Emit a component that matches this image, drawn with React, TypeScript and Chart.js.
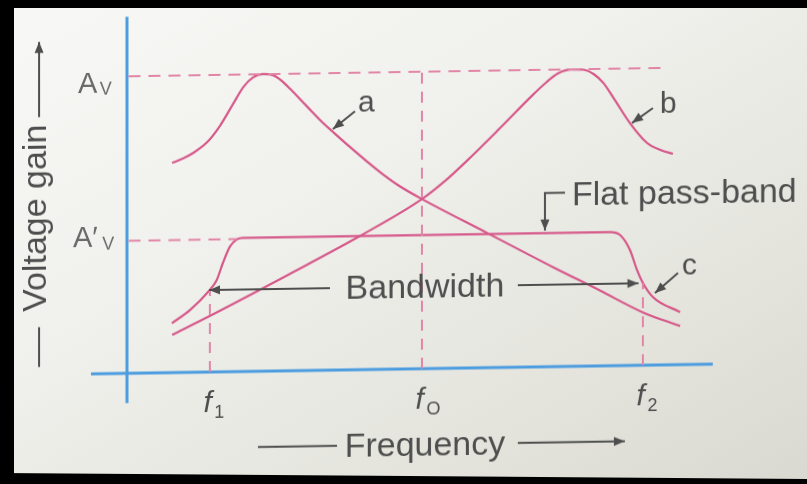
import React, { useEffect, useRef } from "react";
import { Chart, registerables } from "chart.js";

Chart.register(...registerables);

// ---- data (frequency units: y-axis = 0, f0 = 100; gain units: x-axis = 0, Av = 100) ----
const curveAX = [15.3, 19, 22.4, 27.1, 31.5, 35.9, 39.5, 42.7, 46, 49.5, 52.5, 55.3, 61.0, 66.4, 69.8, 75.6, 81.4, 86.8, 92.5, 100, 122, 144.4, 160.3, 174.9, 187.5];
const curveAY = [70.6, 72.0, 73.8, 77.3, 82.8, 90.0, 95.8, 98.9, 100, 99.6, 97.6, 94.9, 88.9, 83.3, 80.2, 75.0, 70.0, 65.6, 61.5, 57.1, 45.4, 33.5, 25.4, 17.8, 13.0];

const curveBX = [15.3, 27.5, 55, 79.0, 100, 107.5, 115.3, 126.4, 137.6, 142, 146, 150.5, 154.6, 158.3, 161.5, 164.7, 170.5, 176.3, 181, 185.1];
const curveBY = [12.7, 18.6, 32.5, 45.0, 57.1, 62.8, 69.8, 80.5, 91.6, 95.6, 98.6, 99.9, 99.8, 98.2, 95.2, 90.5, 81.6, 74.8, 72.3, 71.0];

const curveCX = [15.2, 21.4, 27.6, 30.4, 32.5, 34.9, 37.2, 39.3, 163.7, 167.1, 170.5, 172.9, 174.9, 178.3, 187.5];
const curveCY = [16.6, 21.0, 27.1, 30.9, 36.6, 42.1, 44.5, 45.0, 45.0, 44.0, 38.9, 32.1, 27.7, 22.9, 17.7];

const freqMarks = [28.1, 100, 174.9];
const freqSubs = ["1", "O", "2"];
const cutoffGain = 27.6;
const gainLevels = [100, 44.6];
const gainNames = ["A", "A′"];
const axisXRange = [-12.2, 198.6];
const axisYRange = [-10, 120];
const avLineEnd = 182.4;
const avpLineEnd = 37.3;

// ---- styles ----
const PINK = "#d6598a";
const PINK_DASH = "#e285a7";
const BLUE = "#4c9ce0";
const INK = "#4e4e4e";
const INK_LIGHT = "#6a6a6a";
const FONT = '"Liberation Sans", Arial, Helvetica, sans-serif';

const toPts = (xs: number[], ys: number[]) => xs.map((x, i) => ({ x, y: ys[i] }));

type Txt = { text: string; x: number; y: number; size: number; italic?: boolean; align?: CanvasTextAlign; rot?: boolean; color?: string };
type Arr = { pts: number[][]; head?: boolean };

const TEXTS: Txt[] = [
  { text: gainNames[0], x: -16.6, y: 94.6, size: 29, color: INK_LIGHT },
  { text: "V", x: -9.2, y: 93.9, size: 18, color: INK_LIGHT },
  { text: gainNames[1], x: -18.3, y: 42.8, size: 29, color: INK_LIGHT },
  { text: "V", x: -8.4, y: 41.9, size: 18, color: INK_LIGHT },
  { text: "a", x: 78.3, y: 86.7, size: 30 },
  { text: "b", x: 180.7, y: 84.8, size: 30 },
  { text: "c", x: 188.1, y: 30.2, size: 30 },
  { text: "Flat pass-band", x: 150.8, y: 54.3, size: 34 },
  { text: "Bandwidth", x: 101, y: 23.9, size: 34, align: "center" },
  { text: "Frequency", x: 101, y: -29.3, size: 34, align: "center" },
  { text: "Voltage gain", x: -27.5, y: 52.7, size: 34, align: "center", rot: true },
  ...freqMarks.flatMap((f, i) => [
    { text: "f", x: f - 2.2, y: -13.6, size: 30, italic: true },
    { text: freqSubs[i], x: f + 1.5, y: -15.6, size: 18 },
  ]),
];

const ARROWS: Arr[] = [
  { pts: [[77.3, 87.0], [69.8, 81.1]], head: true },
  { pts: [[178.3, 86.5], [171.2, 81.6]], head: true },
  { pts: [[186.8, 30.9], [179.0, 24.2]], head: true },
  { pts: [[148.5, 58.5], [141.7, 58.5], [141.7, 45.9]], head: true },
  { pts: [[68.8, cutoffGain], [freqMarks[0] - 0.3, cutoffGain]], head: true },
  { pts: [[132.5, cutoffGain], [freqMarks[2] - 1.5, cutoffGain]], head: true },
  { pts: [[44.4, -25.5], [71.2, -25.5]] },
  { pts: [[132.5, -25.5], [168.8, -25.5]], head: true },
  { pts: [[-29.8, 2.6], [-29.8, 16.0]] },
  { pts: [[-29.8, 86.7], [-29.8, 112]], head: true },
];

function drawHead(ctx: CanvasRenderingContext2D, x1: number, y1: number, x2: number, y2: number) {
  const L = 11, W = 4.5;
  const a = Math.atan2(y2 - y1, x2 - x1);
  const c = Math.cos(a), s = Math.sin(a);
  ctx.beginPath();
  ctx.moveTo(x2, y2);
  ctx.lineTo(x2 - L * c - W * s, y2 - L * s + W * c);
  ctx.lineTo(x2 - L * c + W * s, y2 - L * s - W * c);
  ctx.closePath();
  ctx.fill();
}

const annotPlugin = {
  id: "annot",
  afterDatasetsDraw(chart: any) {
    const { ctx, scales } = chart;
    const px = (v: number) => scales.x.getPixelForValue(v);
    const py = (v: number) => scales.y.getPixelForValue(v);
    ctx.save();
    ctx.strokeStyle = INK;
    ctx.fillStyle = INK;
    ctx.lineWidth = 2;
    ctx.lineCap = "butt";
    for (const a of ARROWS) {
      ctx.beginPath();
      a.pts.forEach(([vx, vy], i) => (i ? ctx.lineTo(px(vx), py(vy)) : ctx.moveTo(px(vx), py(vy))));
      ctx.stroke();
      if (a.head) {
        const n = a.pts.length;
        drawHead(ctx, px(a.pts[n - 2][0]), py(a.pts[n - 2][1]), px(a.pts[n - 1][0]), py(a.pts[n - 1][1]));
      }
    }
    for (const t of TEXTS) {
      ctx.font = `${t.italic ? "italic " : ""}${t.size}px ${FONT}`;
      ctx.fillStyle = t.color ?? INK;
      ctx.textAlign = t.align ?? "left";
      ctx.textBaseline = "alphabetic";
      if (t.rot) {
        ctx.save();
        ctx.translate(px(t.x), py(t.y));
        ctx.rotate(-Math.PI / 2);
        ctx.fillText(t.text, 0, 0);
        ctx.restore();
      } else {
        ctx.fillText(t.text, px(t.x), py(t.y));
      }
    }
    ctx.restore();
  },
};

function lineDs(data: { x: number; y: number }[], color: string, width: number, dash: number[] = [], smooth = false) {
  return {
    data,
    borderColor: color,
    borderWidth: width,
    borderDash: dash,
    pointRadius: 0,
    fill: false,
    cubicInterpolationMode: smooth ? ("monotone" as const) : ("default" as const),
    tension: 0,
    borderCapStyle: "butt" as const,
    borderJoinStyle: "round" as const,
  };
}

export default function App() {
  const ref = useRef<HTMLCanvasElement>(null);
  useEffect(() => {
    const chart = new Chart(ref.current as HTMLCanvasElement, {
      type: "line",
      data: {
        datasets: [
          lineDs([{ x: 0.5, y: gainLevels[0] }, { x: avLineEnd, y: gainLevels[0] }], PINK_DASH, 2, [12, 8]),
          lineDs([{ x: 0.5, y: gainLevels[1] }, { x: avpLineEnd, y: gainLevels[1] }], PINK_DASH, 2, [12, 8]),
          lineDs([{ x: freqMarks[0], y: 0 }, { x: freqMarks[0], y: cutoffGain }], PINK_DASH, 2, [11, 8]),
          lineDs([{ x: freqMarks[1], y: 0 }, { x: freqMarks[1], y: gainLevels[0] }], PINK_DASH, 2, [11, 8]),
          lineDs([{ x: freqMarks[2], y: 0 }, { x: freqMarks[2], y: cutoffGain }], PINK_DASH, 2, [11, 8]),
          lineDs(toPts(curveAX, curveAY), PINK, 2.2, [], true),
          lineDs(toPts(curveBX, curveBY), PINK, 2.2, [], true),
          lineDs(toPts(curveCX, curveCY), PINK, 2.2, [], true),
          lineDs([{ x: 0, y: axisYRange[0] }, { x: 0, y: axisYRange[1] }], BLUE, 3),
          lineDs([{ x: axisXRange[0], y: 0 }, { x: axisXRange[1], y: 0 }], BLUE, 3),
        ] as any,
      },
      options: {
        animation: false,
        responsive: false,
        maintainAspectRatio: false,
        devicePixelRatio: 1,
        layout: { padding: 0 },
        plugins: { legend: { display: false }, tooltip: { enabled: false } },
        elements: { point: { radius: 0 } },
        scales: {
          x: { type: "linear", min: -43.05, max: 230.5, display: false },
          y: { type: "linear", min: -38.7, max: 124.2, display: false },
        },
      } as any,
      plugins: [annotPlugin],
    });
    return () => chart.destroy();
  }, []);

  return (
    <div
      style={{
        position: "fixed",
        left: 0,
        top: 0,
        width: 807,
        height: 484,
        overflow: "hidden",
        background: "linear-gradient(150deg, #f8f8f6 0%, #f0f0ec 40%, #e4e4dd 75%, #d9d9d1 100%)",
      }}
    >
      <canvas
        ref={ref}
        width={807}
        height={484}
        style={{
          position: "absolute",
          left: 0,
          top: 0,
          width: 807,
          height: 484,
          transform: "skewY(-0.9deg)",
          transformOrigin: "403px 242px",
        }}
      />
      <div style={{ position: "absolute", left: 0, top: 0, width: 807, height: 8, background: "#000" }} />
      <div style={{ position: "absolute", left: 0, top: 0, width: 14, height: 484, background: "#000" }} />
      <div
        style={{
          position: "absolute",
          left: 0,
          top: 0,
          width: 807,
          height: 484,
          background: "#000",
          clipPath: "polygon(0px 473px, 807px 479px, 807px 484px, 0px 484px)",
        }}
      />
    </div>
  );
}
